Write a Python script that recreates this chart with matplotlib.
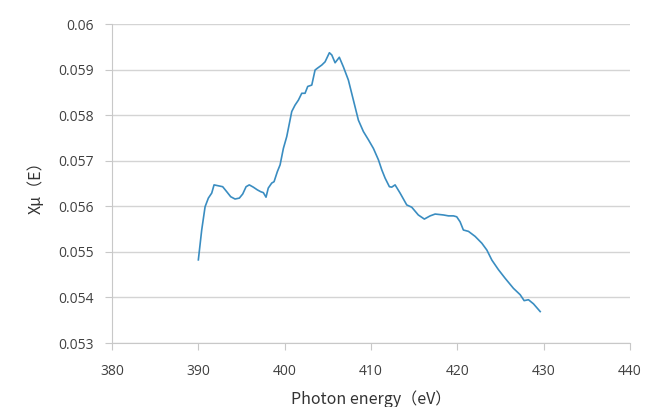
import matplotlib
matplotlib.use("Agg")
import matplotlib.pyplot as plt

# Spectrum
energy = [390.0, 390.39, 390.78, 391.16, 391.55, 391.82, 392.32, 392.82, 393.29, 393.75,
          394.25, 394.75, 395.14, 395.53, 395.9, 396.37, 396.84, 397.23, 397.53, 397.84,
          398.1, 398.5, 398.77, 399.15, 399.47, 399.85, 400.24, 400.82, 401.2, 401.59,
          401.98, 402.36, 402.67, 403.14, 403.52, 403.79, 404.3, 404.68, 405.18, 405.46,
          405.84, 406.33, 406.8, 407.38, 407.96, 408.54, 409.12, 409.7, 410.28, 410.86,
          411.25, 411.63, 412.13, 412.4, 412.79, 413.37, 414.14, 414.72, 415.48, 416.18,
          416.85, 417.43, 418.39, 418.97, 419.55, 419.93, 420.32, 420.7, 421.29, 422.06,
          422.84, 423.42, 424.0, 424.76, 425.54, 426.5, 427.28, 427.74, 428.24, 428.82,
          429.6]
xmu = [0.054825, 0.05548, 0.05599, 0.05618, 0.05629, 0.05647, 0.05645, 0.05643, 0.05632, 0.05621,
       0.05616, 0.05618, 0.05627, 0.05643, 0.05647, 0.05642, 0.05636, 0.05632, 0.05630, 0.05620,
       0.05640, 0.05651, 0.05654, 0.05676, 0.05691, 0.05727, 0.05753, 0.05808, 0.05822, 0.05833,
       0.05848, 0.05848, 0.05863, 0.05866, 0.05899, 0.05903, 0.05910, 0.05917, 0.05937, 0.05932,
       0.05915, 0.05927, 0.05906, 0.05877, 0.05833, 0.05789, 0.05764, 0.05746, 0.05727, 0.05702,
       0.05680, 0.05662, 0.05643, 0.05642, 0.05647, 0.05629, 0.05603, 0.05598, 0.05581, 0.05572,
       0.05579, 0.05583, 0.05581, 0.05579, 0.05579, 0.05577, 0.05566, 0.05548, 0.05545, 0.05534,
       0.05519, 0.05504, 0.05482, 0.05461, 0.05442, 0.05420, 0.05406, 0.05393, 0.05395, 0.05386,
       0.05369]

xticks = [380, 390, 400, 410, 420, 430, 440]
yticks = [0.053, 0.054, 0.055, 0.056, 0.057, 0.058, 0.059, 0.06]
ytick_labels = ["0.053", "0.054", "0.055", "0.056", "0.057", "0.058", "0.059", "0.06"]

fig = plt.figure(figsize=(6.46, 4.07), dpi=100)
ax = fig.add_axes([0.1734, 0.1572, 0.8018, 0.7838])

ax.plot(energy, xmu, color="#3a8dc1", linewidth=1.2)

ax.set_xlim(380, 440)
ax.set_ylim(0.053, 0.06)
ax.set_xticks(xticks)
ax.set_yticks(yticks)
ax.set_yticklabels(ytick_labels)

ax.grid(axis="y", color="#d4d4d4", linewidth=1)
ax.set_axisbelow(True)
for s in ["top", "right"]:
    ax.spines[s].set_visible(False)
for s in ["left", "bottom"]:
    ax.spines[s].set_color("#c8c8c8")
ax.tick_params(axis="both", colors="#c8c8c8", labelcolor="#404040", labelsize=10, length=5)
ax.tick_params(axis="x", pad=10)
ax.tick_params(axis="y", pad=8)
for lab in ax.get_xticklabels() + ax.get_yticklabels():
    lab.set_family("Open Sans")

cjk = ["Noto Sans CJK JP", "DejaVu Sans"]
ax.set_xlabel("Photon energy（eV）", fontsize=11.5, color="#333333", family=cjk, labelpad=8)
ax.set_ylabel("Xμ（E）", fontsize=11.5, color="#333333", family=cjk, labelpad=10)

fig.savefig("out.png", dpi=100)
